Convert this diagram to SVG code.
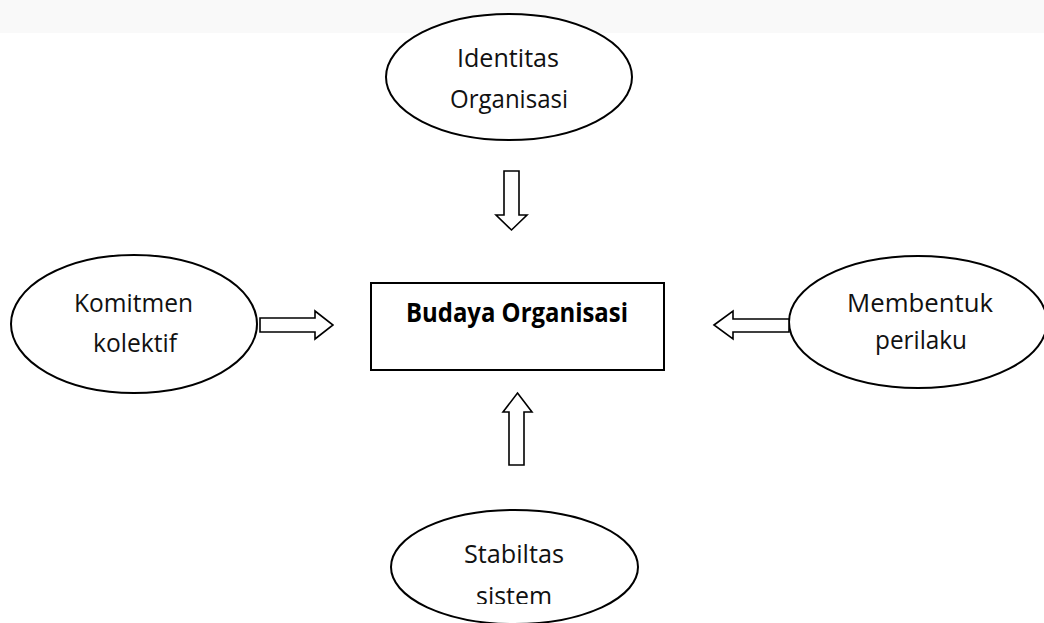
<svg xmlns="http://www.w3.org/2000/svg" width="1044" height="623" viewBox="0 0 1044 623">
<style>
.node{fill:#fff;stroke:#000;stroke-width:2}
.arrow{fill:#fff;stroke:#000;stroke-width:1.6;stroke-linejoin:miter}
.t{font-family:"Open Sans",Lato,"Liberation Sans",sans-serif;font-size:25px;fill:#111;text-anchor:middle}
.b{font-family:"Open Sans",Lato,"Liberation Sans",sans-serif;font-size:27px;font-weight:bold;fill:#000;text-anchor:middle}
</style>
<defs>
<clipPath id="clipSistem"><rect x="0" y="0" width="1044" height="604"/></clipPath>
</defs>
<rect x="0" y="0" width="1044" height="623" fill="#fff"/>
<rect x="0" y="0" width="1044" height="33" fill="#f9f9f9"/>
<g id="identitas">
<ellipse class="node" cx="509" cy="77" rx="123" ry="63"/>
<text class="t" x="508" y="67" textLength="102" lengthAdjust="spacingAndGlyphs">Identitas</text>
<text class="t" x="509" y="108" textLength="118" lengthAdjust="spacingAndGlyphs">Organisasi</text>
</g>
<g id="budaya">
<rect class="node" x="371" y="283" width="293" height="87"/>
<text class="b" x="517" y="322" textLength="222" lengthAdjust="spacingAndGlyphs">Budaya Organisasi</text>
</g>
<g id="komitmen">
<ellipse class="node" cx="134" cy="324" rx="123" ry="69"/>
<text class="t" x="133.5" y="312" textLength="119" lengthAdjust="spacingAndGlyphs">Komitmen</text>
<text class="t" x="135" y="352" textLength="84" lengthAdjust="spacingAndGlyphs">kolektif</text>
</g>
<g id="membentuk">
<ellipse class="node" cx="918" cy="322" rx="129" ry="66"/>
<text class="t" x="920" y="312" textLength="146" lengthAdjust="spacingAndGlyphs">Membentuk</text>
<text class="t" x="921" y="349" textLength="92" lengthAdjust="spacingAndGlyphs">perilaku</text>
</g>
<g id="stabilitas">
<ellipse class="node" cx="514.5" cy="567" rx="123.5" ry="57"/>
<text class="t" x="514" y="563" textLength="100" lengthAdjust="spacingAndGlyphs">Stabiltas</text>
<text class="t" x="514" y="605" textLength="76" lengthAdjust="spacingAndGlyphs" clip-path="url(#clipSistem)">sistem</text>
</g>
<g id="connectors">
<polygon class="arrow" points="504,171 519,171 519,215 527,215 511.5,230 496,215 504,215"/>
<polygon class="arrow" points="517.5,393 532,412 524,412 524,465 509,465 509,412 503,412"/>
<polygon class="arrow" points="260,318 315,318 315,311 333,325 315,339 315,332 260,332"/>
<polygon class="arrow" points="714,325 733,311 733,319 789,319 789,332 733,332 733,339"/>
</g>
</svg>
